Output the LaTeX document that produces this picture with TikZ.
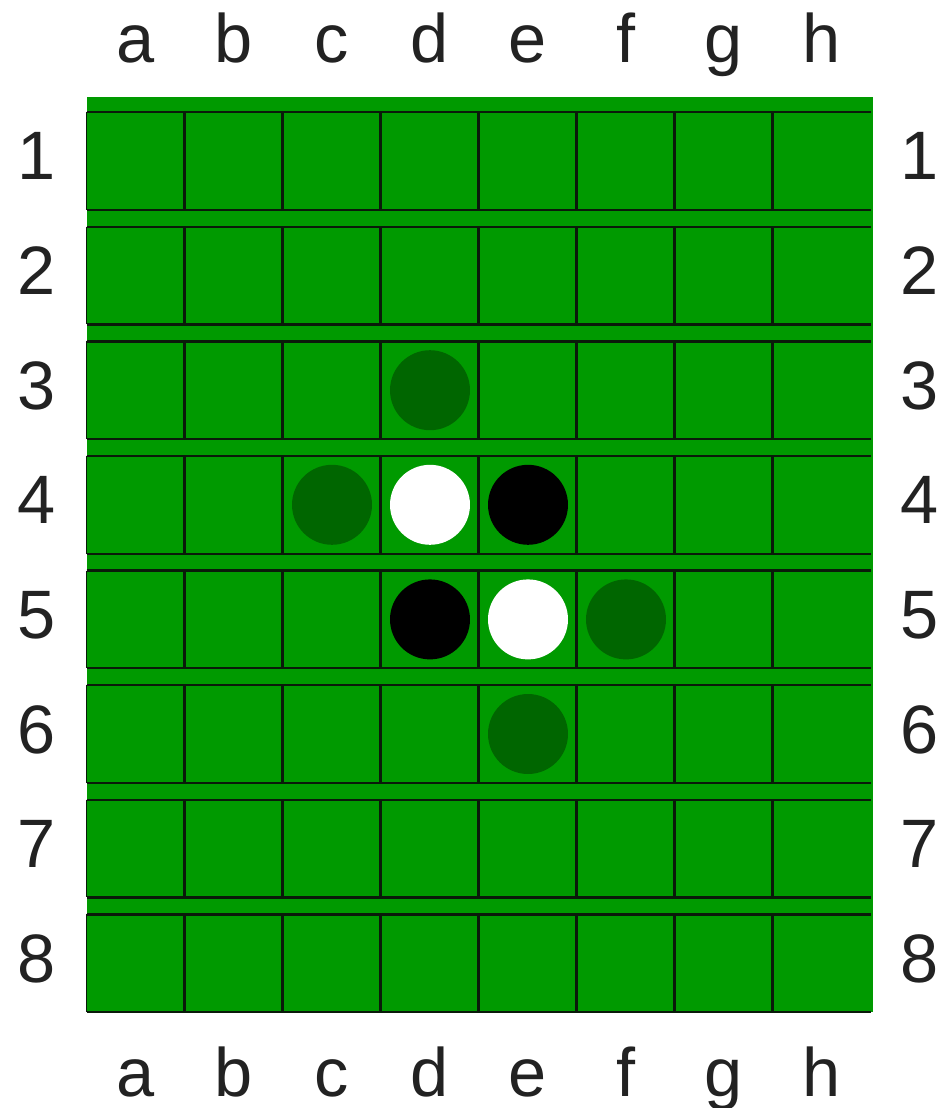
\documentclass[tikz,border=0pt]{standalone}
\usepackage{fontspec}
\setmainfont{Liberation Sans}
\usepackage{tikz}
\usetikzlibrary{positioning}
\definecolor{boardgreen}{HTML}{009A00}
\definecolor{hintgreen}{HTML}{006600}
\definecolor{labelgray}{HTML}{222222}
\definecolor{edgeblack}{HTML}{0A1A0A}

\begin{document}
\begin{tikzpicture}[x=0.02cm, y=-0.02cm,
    cell/.style={rectangle, fill=boardgreen,
                 minimum width=1.96cm, minimum height=1.94cm, inner sep=0pt},
    rowline/.style={edgeblack, line width=1.3pt},
    colline/.style={edgeblack, line width=2pt},
    disc/.style={circle, fill=#1, minimum size=1.6cm, inner sep=0pt},
    coord/.style={font=\fontsize{39}{44}\selectfont, text=labelgray,
                  anchor=base, inner sep=0pt},
  ]
  \useasboundingbox (0,0) rectangle (945,1108);
  % board
  \fill[boardgreen] (87,97) rectangle (873,1012);
  \foreach \c [count=\i] in {a,b,c,d,e,f,g,h} {
    \foreach \r in {1,...,8} {
      \node[cell] (sq-\c\r) at ({87+49+98*(\i-1)}, {161+114.6*(\r-1)}) {};
    }
    \node[coord] (top-\c) at ({87+49+98*(\i-1)}, 63) {\c};
    \node[coord] (bot-\c) at ({87+49+98*(\i-1)}, 1096) {\c};
  }
  % grid lines
  \foreach \r in {1,...,8} {
    \draw[rowline] (sq-a\r.north west) -- (sq-h\r.north east);
    \draw[rowline] (sq-a\r.south west) -- (sq-h\r.south east);
    \draw[edgeblack, line width=0.9pt] (sq-a\r.north west) -- (sq-a\r.south west);
    \foreach \c in {b,c,d,e,f,g,h}
      \draw[colline] (sq-\c\r.north west) -- (sq-\c\r.south west);
    \node[coord] (left-\r)  at (37, {161+19+114.6*(\r-1)}) {\r};
    \node[coord] (right-\r) at (920, {161+19+114.6*(\r-1)}) {\r};
  }
  % pieces
  \node[disc=white] (white-d4) at (sq-d4) {};
  \node[disc=black] (black-e4) at (sq-e4) {};
  \node[disc=black] (black-d5) at (sq-d5) {};
  \node[disc=white] (white-e5) at (sq-e5) {};
  % legal moves
  \node[disc=hintgreen] (hint-d3) at (sq-d3) {};
  \node[disc=hintgreen] (hint-c4) at (sq-c4) {};
  \node[disc=hintgreen] (hint-f5) at (sq-f5) {};
  \node[disc=hintgreen] (hint-e6) at (sq-e6) {};
\end{tikzpicture}
\end{document}
